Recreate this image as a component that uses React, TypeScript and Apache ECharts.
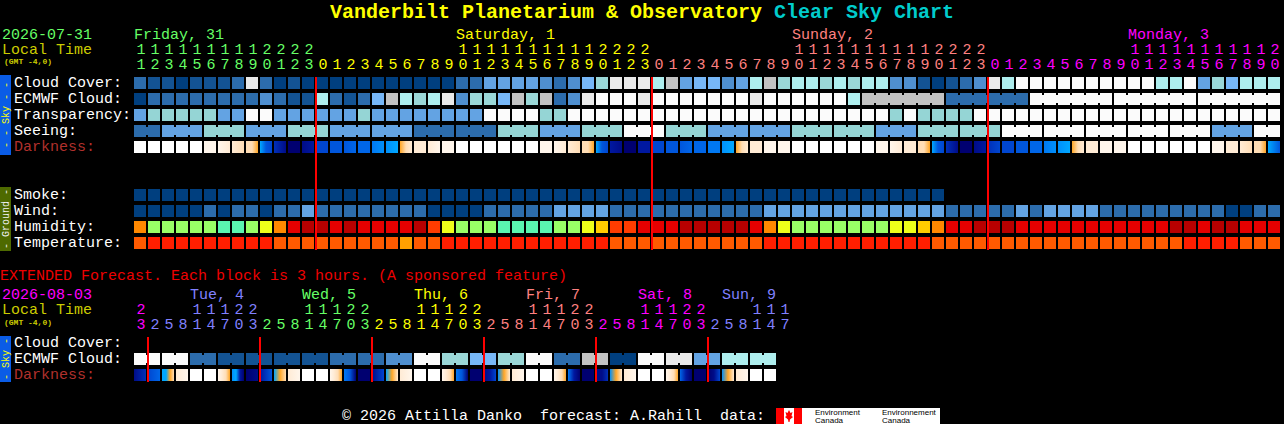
import { useEffect, useRef } from "react";
import * as echarts from "echarts";

// ---------- time axes (tick labels) ----------
const MAIN_HOURS = [
  11, 12, 13, 14, 15, 16, 17, 18, 19, 20, 21, 22, 23,
  0, 1, 2, 3, 4, 5, 6, 7, 8, 9, 10, 11, 12, 13, 14, 15, 16, 17, 18, 19, 20, 21, 22, 23,
  0, 1, 2, 3, 4, 5, 6, 7, 8, 9, 10, 11, 12, 13, 14, 15, 16, 17, 18, 19, 20, 21, 22, 23,
  0, 1, 2, 3, 4, 5, 6, 7, 8, 9, 10, 11, 12, 13, 14, 15, 16, 17, 18, 19, 20,
];
const MAIN_DAY_NAMES = ["Friday, 31", "Saturday, 1", "Sunday, 2", "Monday, 3"];
const MAIN_DAY_COLS = [0, 23, 47, 71];

const EXT_HOURS = [
  23,
  2, 5, 8, 11, 14, 17, 20, 23,
  2, 5, 8, 11, 14, 17, 20, 23,
  2, 5, 8, 11, 14, 17, 20, 23,
  2, 5, 8, 11, 14, 17, 20, 23,
  2, 5, 8, 11, 14, 17, 20, 23,
  2, 5, 8, 11, 14, 17,
];
const EXT_DAY_NAMES = ["Mon, 3", "Tue, 4", "Wed, 5", "Thu, 6", "Fri, 7", "Sat, 8", "Sun, 9"];
const EXT_DAY_COLS = [-1, 4, 12, 20, 28, 36, 42];

const DAY_COLORS = ["#66FF66", "#FFFF00", "#FF8080", "#FF00FF", "#8080FF"];
const MAIN_FIRST_DAY_COLOR = 0;
const EXT_FIRST_DAY_COLOR = 3;

const MAIN_ROWS = ["Cloud Cover:", "ECMWF Cloud:", "Transparency:", "Seeing:", "Darkness:", "_gap1", "_gap2", "Smoke:", "Wind:", "Humidity:", "Temperature:"];
const EXT_ROWS = ["Cloud Cover:", "ECMWF Cloud:", "Darkness:"];

// ---------- forecast values ----------
// cloud cover, percent
const CLOUD_COVER = [
  20, 10, 10, 0, 10, 10, 10, 20, 90, 20, 0, 10, 0, 0, 0, 0, 0, 0, 0, 0, 0,
  0, 0, 20, 20, 40, 40, 40, 40, 30, 20, 30, 50, 60, 90, 90, 90, 70, 80, 40, 50, 50, 30, 40, 70, 80, 60, 70, 70, 60, 70,
  60, 70, 70, 30, 30, 10, 0, 10, 20, 30, 90, 70, 100, 100, 100, 100, 100, 100, 100, 100, 100, 100, 70, 70, 100, 40, 60, 50, 70, 70, 70,
];
const ECMWF_CLOUD = [
  0, 20, 20, 20, 20, 20, 20, 20, 20, 30, 20, 10, 10, 70, 20, 10, 20, 50, 80, 70, 60,
  70, 90, 30, 60, 60, 50, 80, 60, 80, 20, 30, 90, 100, 100, 100, 90, 100, 100, 100, 100, 100, 100, 100, 90, 100, 100, 100, 100, 100, 100,
  70, 80, 80, 80, 80, 80, 80, 20, 20, 20, 20, 20, 20,
  100, 100, 100, 100, 100, 100, 100, 100, 100, 100, 100, 100, 100, 100, 100, 100, 100, 100,
];
const ECMWF_BLOCK_START = 52; // from here ECMWF is given in 6-hour blocks
const ECMWF_BLOCK_HOURS = 6;
// transparency / seeing level: 0 too cloudy, 2 below avg/poor, 3 average, 4 above avg/good
const TRANSPARENCY = [
  3, 2, 2, 2, 2, 2, 3, 3, 0, 0, 3, 3, 3, 3, 3, 3, 2, 3, 3, 3, 3,
  3, 3, 3, 3, 0, 0, 0, 0, 2, 2, 0, 0, 0, 0, 0, 0, 0, 0, 0, 0, 0, 0, 0, 0, 0, 0, 0, 0, 0, 0,
  0, 0, 0, 2, 0, 2, 2, 2, 2, 0, 0, 0, 0, 0, 0, 0, 0, 0, 0, 0, 0, 0, 0, 0, 0, 0, 0, 0, 0, 0, 0,
];
const SEEING = [
  4, 4, 3, 3, 3, 2, 2, 2, 3, 3, 3, 2, 2, 2, 3, 3, 3, 3, 3, 3, 4,
  4, 4, 4, 4, 4, 2, 2, 2, 3, 3, 3, 2, 2, 2, 0, 0, 0, 2, 2, 2, 3, 3, 3, 3, 3, 3, 2, 2, 2, 2,
  2, 2, 3, 3, 3, 2, 2, 2, 2, 2, 2, 0, 0, 0, 0, 0, 0, 0, 0, 0, 0, 0, 0, 0, 0, 0, 3, 3, 3, 0, 0,
];
const SEEING_BLOCK_HOURS = 3; // seeing blocks start at hours 1, 4, 7, ...
// darkness: sky brightness level 0 (day) .. 14 (darkest), as a run of colour stops per block
const DARKNESS = [
  [0], [0], [0], [0], [0], [1], [1, 2], [2, 3], [3, 3, 4], [5, 9, 10],
  [11, 13], [14], [13, 12], [10], [9], [9, 8], [8], [7, 6], [6, 5], [4, 3, 2],
  [2], [2, 1], [1], [0], [0], [0], [0], [0], [0], [1],
  [1, 2], [2, 3], [3, 3, 4], [5, 9, 10], [12, 13], [14], [12], [10], [9], [9, 8],
  [8], [7], [6, 5], [4, 3, 2], [2], [1], [1], [0], [0], [0],
  [0], [0], [0], [1], [1, 2], [2], [3, 3, 4], [5, 9, 10], [11, 13], [14],
  [13, 12], [11, 10], [10], [9], [8], [7, 6], [6, 5], [4, 3, 2], [2], [1],
  [1], [0], [0], [0], [0], [0], [0], [1], [2], [2, 3],
  [3, 3, 4], [5, 9],
];
const SMOKE = [
  0, 0, 0, 0, 0, 0, 0, 0, 0, 0, 0, 0, 0, 0, 0, 0, 0, 0, 0, 0, 0, 0, 0, 0, 0, 0, 0, 0, 0,
  0, 0, 0, 0, 0, 0, 0, 0, 0, 0, 0, 0, 0, 0, 0, 0, 0, 0, 0, 0, 0, 0, 0, 0, 0, 0, 0, 0, 0,
];
// wind class: 0 = 0-5 mph, 1 = 6-11 mph, 2 = 12-16 mph
const WIND = [
  0, 0, 0, 0, 0, 1, 0, 1, 1, 0, 1, 1, 2, 1, 1, 1, 1, 1, 1, 1, 1,
  0, 0, 0, 0, 1, 1, 1, 1, 1, 2, 2, 2, 2, 1, 1, 1, 1, 1, 1, 1, 1, 1, 1, 1, 2, 2, 2, 2, 2, 2,
  2, 2, 2, 2, 2, 2, 2, 1, 1, 1, 1, 1, 2, 1, 2, 2, 2, 2, 1, 1, 1, 1, 1, 1, 1, 1, 1, 0, 0, 1, 1,
];
// relative humidity, percent
const HUMIDITY = [
  70, 50, 50, 50, 50, 50, 45, 45, 50, 60, 70, 90, 95, 95, 90, 95, 90, 90, 90, 90, 95,
  80, 60, 50, 50, 50, 45, 45, 45, 45, 50, 50, 60, 65, 80, 80, 90, 90, 90, 95, 95, 95, 95, 95, 90, 70, 60, 50, 50, 50, 50,
  50, 50, 50, 60, 60, 65, 70, 90, 90, 95, 95, 95, 90, 90, 90, 90, 90, 90, 90, 90, 90, 90, 90, 95, 95, 90, 95, 95, 90, 90, 90,
];
// temperature, deg F
const TEMPERATURE = [
  82, 88, 88, 88, 88, 88, 88, 88, 88, 88, 82, 82, 82, 82, 82, 82, 82, 82, 82, 77, 82,
  82, 88, 88, 88, 88, 88, 88, 88, 88, 88, 88, 88, 88, 82, 82, 82, 82, 82, 82, 82, 82, 82, 82, 82, 88, 88, 88, 88, 88, 88,
  88, 88, 88, 88, 88, 88, 82, 82, 82, 82, 82, 82, 82, 82, 82, 82, 82, 82, 82, 82, 82, 82, 82, 82, 88, 88, 88, 88, 82, 82, 82,
];
// extended (3-hour blocks)
const EXT_ECMWF_CLOUD = [
  100, 100, 100, 100, 20, 20, 10, 10, 10, 10, 10, 10, 10, 10, 20, 20, 20, 20, 30, 30,
  100, 100, 60, 60, 50, 50, 60, 60, 100, 100, 20, 20, 80, 80, 0, 0, 100, 100, 90, 90, 40, 40, 70, 70, 70, 70,
];
const EXT_ECMWF_PAIR = 2; // ECMWF extended data is 6-hourly -> pairs of blocks
const EXT_DARKNESS = [
  [13, 11], [10, 8], [5, 5, 4, 3], [2, 1], [0], [0], [1, 2, 3, 4], [6, 5, 12, 14],
  [14, 13], [12, 9], [5, 4, 3], [2, 1], [0], [0], [1, 2, 3, 4], [7, 9, 14],
  [14], [13, 10], [5, 4, 2], [2, 1], [0], [0], [1, 2, 3, 4], [7, 9, 14],
  [14], [13, 12, 10], [6, 4, 2], [2, 1], [0], [0], [1, 2, 3, 4], [7, 12, 14],
  [14], [13, 13, 11], [6, 4, 2], [2, 1], [0], [0], [1, 2, 3, 4], [8, 12, 14],
  [14], [14, 13, 10], [6, 4, 2], [2, 1], [0], [0],
];

// ---------- colour scales ----------
const CLOUD_COLORS: Record<number, string> = {
  0: "#003F7F", 10: "#135393", 20: "#2C6CAC", 30: "#4F8FCF", 40: "#63A3E3", 50: "#77B7F7",
  60: "#9AD7D7", 70: "#AEEEEE", 80: "#C2C2C2", 90: "#EAEAEA", 100: "#FBFBFB",
};
const LEVEL_COLORS = ["#FBFBFB", "#C7C7C7", "#95D5D5", "#63A3E3", "#2C6CAC", "#003F7F"];
const WIND_COLORS = ["#003F7F", "#2C6CAC", "#63A3E3"];
const SMOKE_COLORS = ["#003F7F"];
const HUMIDITY_COLORS: Record<number, string> = {
  45: "#5AF5B0", 50: "#99FF66", 60: "#EEFF1A", 65: "#FFCC00", 70: "#FF8800", 80: "#FF3C00", 90: "#E60000", 95: "#B80000",
};
const TEMP_COLORS: Record<number, string> = { 77: "#FFA000", 82: "#FF5A00", 88: "#FF1E00" };
const DARK_COLORS = [
  "#FFFFFF", "#FFF6EC", "#FFEBD5", "#FFDDB5", "#FFA626", "#00A8FF", "#0090FA", "#0078F2",
  "#0066E8", "#0056DC", "#0046D0", "#0030B8", "#0018A0", "#000C88", "#000070",
];

const FONT = '"Liberation Mono", "DejaVu Sans Mono", monospace';

function dayIndexOf(hours: number[]) {
  const out: number[] = [];
  let d = 0;
  hours.forEach((h, i) => {
    if (i > 0 && h < hours[i - 1]) d++;
    out.push(d);
  });
  return out;
}
function midnightCols(hours: number[]) {
  const out: number[] = [];
  hours.forEach((h, i) => {
    if (i > 0 && h < hours[i - 1]) out.push(i);
  });
  return out;
}

function blockSeries(
  axis: number,
  row: number,
  count: number,
  fillOf: (i: number) => any,
  joined?: (i: number) => boolean
) {
  const data: number[][] = [];
  for (let i = 0; i < count; i++) data.push([i, row]);
  return {
    type: "custom",
    coordinateSystem: "cartesian2d",
    xAxisIndex: axis === 0 ? 0 : 4,
    yAxisIndex: axis,
    encode: { x: 0, y: 1 },
    silent: true,
    data,
    renderItem: (params: any, api: any) => {
      const i = api.value(0) as number;
      const r = api.value(1) as number;
      const a = api.coord([i, r]);
      const b = api.coord([i + 1, r]);
      const band = api.size([0, 1])[1];
      const h = Math.round(band * 0.75);
      const x = Math.round(a[0]);
      const w = Math.round(b[0]) - x - 2;
      const y = Math.round(a[1] - h / 2);
      const fill = fillOf(i);
      const children: any[] = [{ type: "rect", shape: { x, y, width: w, height: h }, style: { fill } }];
      if (joined && joined(i)) {
        children.push({ type: "rect", shape: { x: x - 2, y: y + 2, width: 2, height: h - 4 }, style: { fill } });
      }
      return { type: "group", children };
    },
  };
}

function darkFill(stops: number[]) {
  if (stops.length === 1) return DARK_COLORS[stops[0]];
  return new echarts.graphic.LinearGradient(
    0, 0, 1, 0,
    stops.map((s, k) => ({ offset: k / (stops.length - 1), color: DARK_COLORS[s] }))
  );
}

function midnightSeries(axis: number, cols: number[]) {
  return {
    type: "custom",
    coordinateSystem: "cartesian2d",
    xAxisIndex: axis === 0 ? 0 : 4,
    yAxisIndex: axis,
    encode: { x: 0, y: 1 },
    silent: true,
    z: 10,
    data: cols.map((c) => [c, 0]),
    renderItem: (params: any, api: any) => {
      const cs = params.coordSys;
      const x = api.coord([api.value(0), 0])[0];
      return {
        type: "line",
        shape: { x1: x, y1: cs.y + 2, x2: x, y2: cs.y + cs.height - 1 },
        style: { stroke: "#FF0000", lineWidth: 2 },
      };
    },
  };
}

function hourAxes(gridIndex: number, hours: number[], dayNames: string[], dayCols: number[], firstColor: number) {
  const days = dayIndexOf(hours);
  const idx = hours.map((_, i) => String(i));
  const colorOf = (v: any) => DAY_COLORS[(firstColor + days[Number(v)]) % DAY_COLORS.length];
  const base = {
    gridIndex,
    type: "category",
    position: "top",
    axisLine: { show: false },
    axisTick: { show: false },
    splitLine: { show: false },
  };
  const nameCols: string[] = [];
  for (let i = 0; i <= hours.length; i++) nameCols.push(String(i));
  return [
    {
      ...base,
      data: idx,
      axisLabel: {
        interval: 0,
        margin: 25,
        verticalAlign: "middle",
        fontFamily: FONT,
        fontSize: 15,
        color: colorOf,
        formatter: (v: string) => {
          const h = hours[Number(v)];
          return h >= 10 ? String(Math.floor(h / 10)) : "";
        },
      },
    },
    {
      ...base,
      data: idx,
      axisLabel: {
        interval: 0,
        margin: 10,
        verticalAlign: "middle",
        fontFamily: FONT,
        fontSize: 15,
        color: colorOf,
        formatter: (v: string) => String(hours[Number(v)] % 10),
      },
    },
    {
      ...base,
      boundaryGap: false,
      data: nameCols,
      axisLabel: {
        interval: 0,
        margin: 40,
        align: "left",
        verticalAlign: "middle",
        fontFamily: FONT,
        fontSize: 15,
        color: (v: any) => {
          const d = dayCols.indexOf(Number(v));
          return DAY_COLORS[(firstColor + Math.max(d, 0)) % DAY_COLORS.length];
        },
        formatter: (v: string) => {
          const d = dayCols.indexOf(Number(v));
          return d >= 0 ? dayNames[d] : "";
        },
      },
    },
  ];
}

function rowAxis(gridIndex: number, rows: string[]) {
  return {
    gridIndex,
    type: "category",
    inverse: true,
    data: rows,
    axisLine: { show: false, onZero: false },
    axisTick: { show: false },
    splitLine: { show: false },
    axisLabel: {
      interval: 0,
      margin: 120,
      align: "left",
      fontFamily: FONT,
      fontSize: 15,
      color: (v: string) => (v === "Darkness:" ? "#B0302C" : "#FFFFFF"),
      formatter: (v: string) => (v.startsWith("_") ? "" : v),
    },
  };
}

function text(x: number, y: number, t: string, fill: string, size = 15, weight = "normal", extra: any = {}) {
  return {
    type: "text",
    x,
    y,
    silent: true,
    ...extra,
    style: {
      text: t,
      fill,
      font: `${weight} ${size}px ${FONT}`,
      align: extra.align || "left",
      verticalAlign: "middle",
      textAlign: extra.align || "left",
      textVerticalAlign: "middle",
    },
  };
}

function sideBar(y: number, h: number, fill: string, label: string, color: string) {
  return [
    { type: "rect", silent: true, shape: { x: 0, y, width: 11, height: h }, style: { fill } },
    {
      type: "text",
      silent: true,
      x: 6,
      y: y + h / 2,
      rotation: Math.PI / 2,
      style: {
        text: label,
        fill: color,
        font: `10px ${FONT}`,
        align: "center",
        verticalAlign: "middle",
        textAlign: "center",
        textVerticalAlign: "middle",
      },
    },
  ];
}

export default function App() {
  const ref = useRef<HTMLDivElement>(null);

  useEffect(() => {
    document.body.style.margin = "0";
    document.body.style.background = "#000";
    const chart = echarts.init(ref.current!, undefined, { renderer: "svg" });

    const mainTop = 75;
    const rowPitch = 16;
    const colPitch = 14;
    const extTop = 335;

    const option: any = {
      animation: false,
      backgroundColor: "#000000",
      grid: [
        { left: 134, top: mainTop, width: MAIN_HOURS.length * colPitch, height: MAIN_ROWS.length * rowPitch, outerBoundsMode: "none" },
        { left: 134, top: extTop, width: EXT_HOURS.length * colPitch, height: EXT_ROWS.length * rowPitch, outerBoundsMode: "none" },
      ],
      xAxis: [
        { gridIndex: 0, type: "value", min: 0, max: MAIN_HOURS.length, show: false },
        ...hourAxes(0, MAIN_HOURS, MAIN_DAY_NAMES, MAIN_DAY_COLS, MAIN_FIRST_DAY_COLOR),
        { gridIndex: 1, type: "value", min: 0, max: EXT_HOURS.length, show: false },
        ...hourAxes(1, EXT_HOURS, EXT_DAY_NAMES, EXT_DAY_COLS, EXT_FIRST_DAY_COLOR),
      ],
      yAxis: [rowAxis(0, MAIN_ROWS), rowAxis(1, EXT_ROWS)],
      series: [
        blockSeries(0, 0, CLOUD_COVER.length, (i) => CLOUD_COLORS[CLOUD_COVER[i]]),
        blockSeries(0, 1, ECMWF_CLOUD.length, (i) => CLOUD_COLORS[ECMWF_CLOUD[i]],
          (i) => i > ECMWF_BLOCK_START && (i - ECMWF_BLOCK_START) % ECMWF_BLOCK_HOURS !== 0),
        blockSeries(0, 2, TRANSPARENCY.length, (i) => LEVEL_COLORS[TRANSPARENCY[i]]),
        blockSeries(0, 3, SEEING.length, (i) => LEVEL_COLORS[SEEING[i]],
          (i) => i > 0 && MAIN_HOURS[i] % SEEING_BLOCK_HOURS !== 1),
        blockSeries(0, 4, DARKNESS.length, (i) => darkFill(DARKNESS[i])),
        blockSeries(0, 7, SMOKE.length, (i) => SMOKE_COLORS[SMOKE[i]]),
        blockSeries(0, 8, WIND.length, (i) => WIND_COLORS[WIND[i]]),
        blockSeries(0, 9, HUMIDITY.length, (i) => HUMIDITY_COLORS[HUMIDITY[i]]),
        blockSeries(0, 10, TEMPERATURE.length, (i) => TEMP_COLORS[TEMPERATURE[i]]),
        midnightSeries(0, midnightCols(MAIN_HOURS)),
        blockSeries(1, 1, EXT_ECMWF_CLOUD.length, (i) => CLOUD_COLORS[EXT_ECMWF_CLOUD[i]],
          (i) => i % EXT_ECMWF_PAIR === 1),
        blockSeries(1, 2, EXT_DARKNESS.length, (i) => darkFill(EXT_DARKNESS[i])),
        midnightSeries(1, midnightCols(EXT_HOURS)),
      ],
      graphic: {
        elements: [
          text(330, 12, "Vanderbilt Planetarium & Observatory", "#FFFF00", 20, "bold"),
          text(774, 12, "Clear Sky Chart", "#00CCCC", 20, "bold"),
          text(2, 35, "2026-07-31", DAY_COLORS[MAIN_FIRST_DAY_COLOR]),
          text(2, 50, "Local Time", "#CCCC00"),
          text(4, 61, "(GMT -4,0)", "#CCCC00", 8, "bold"),
          text(0, 276, "EXTENDED Forecast. Each block is 3 hours. (A sponsored feature)", "#EE0000"),
          text(2, 295, "2026-08-03", DAY_COLORS[EXT_FIRST_DAY_COLOR]),
          text(2, 310, "Local Time", "#CCCC00"),
          text(4, 322, "(GMT -4,0)", "#CCCC00", 8, "bold"),
          ...sideBar(75, 80, "#0A5CE6", "- - Sky - -", "#FFFF00"),
          ...sideBar(187, 64, "#4E6A00", "- Ground -", "#F0F0F0"),
          ...sideBar(336, 46, "#0A5CE6", "- Sky -", "#FFFF00"),
          text(342, 416, "\u00A9 2026 Attilla Danko  forecast: A.Rahill  data:", "#FFFFFF"),
          { type: "rect", silent: true, shape: { x: 776, y: 408, width: 164, height: 16 }, style: { fill: "#FFFFFF" } },
          { type: "rect", silent: true, shape: { x: 776, y: 408, width: 8, height: 16 }, style: { fill: "#FF0000" } },
          { type: "rect", silent: true, shape: { x: 794, y: 408, width: 8, height: 16 }, style: { fill: "#FF0000" } },
          {
            type: "polygon",
            silent: true,
            shape: {
              points: [[789, 410], [790.5, 413], [792.5, 412], [791.5, 416], [793, 417], [790, 419.5], [789.5, 422], [788.5, 422], [788, 419.5], [785, 417], [786.5, 416], [785.5, 412], [787.5, 413]],
            },
            style: { fill: "#FF0000" },
          },
          { type: "text", silent: true, x: 815, y: 412, style: { text: "Environment", fill: "#000", font: '8px "Liberation Sans", sans-serif', verticalAlign: "middle", textVerticalAlign: "middle" } },
          { type: "text", silent: true, x: 815, y: 420, style: { text: "Canada", fill: "#000", font: '8px "Liberation Sans", sans-serif', verticalAlign: "middle", textVerticalAlign: "middle" } },
          { type: "text", silent: true, x: 882, y: 412, style: { text: "Environnement", fill: "#000", font: '8px "Liberation Sans", sans-serif', verticalAlign: "middle", textVerticalAlign: "middle" } },
          { type: "text", silent: true, x: 882, y: 420, style: { text: "Canada", fill: "#000", font: '8px "Liberation Sans", sans-serif', verticalAlign: "middle", textVerticalAlign: "middle" } },
        ],
      },
    };

    chart.setOption(option);
    return () => chart.dispose();
  }, []);

  return (
    <div
      ref={ref}
      style={{ position: "absolute", left: 0, top: 0, width: 1284, height: 424, background: "#000" }}
    />
  );
}
